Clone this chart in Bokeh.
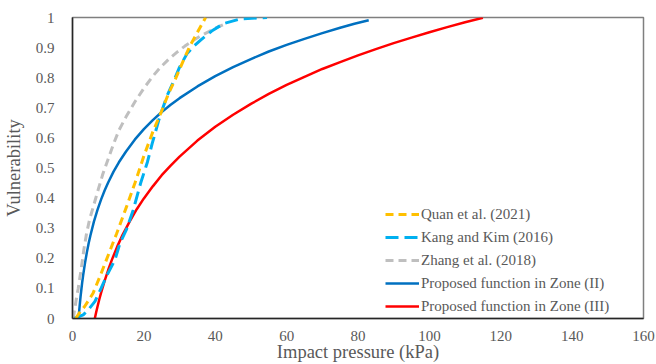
from bokeh.plotting import figure
from bokeh.models import Range1d, FixedTicker, Legend, LegendItem
from bokeh.embed import file_html
from bokeh.resources import INLINE

# ---- data ----
quan_x = [0.9, 2, 3.4, 4.6, 5.8, 7.7, 10, 12.3, 15.1, 17.5, 20, 22.5, 25, 27, 29, 31, 33.1, 35.2, 37.3]
quan_y = [0, 0.02, 0.04, 0.062, 0.085, 0.14, 0.21, 0.28, 0.37, 0.45, 0.54, 0.62, 0.69, 0.75, 0.80, 0.855, 0.91, 0.955, 1.0]

kang_x = [0.5, 3, 4.5, 6.3, 8, 9.5, 11.9, 13.3, 15.1, 17, 19.1, 21, 22.3, 24.2, 26.5, 28.4, 30, 32.1, 34, 35.9, 39, 42.4, 47, 54.5]
kang_y = [0, 0.012, 0.03, 0.057, 0.10, 0.14, 0.195, 0.25, 0.295, 0.36, 0.45, 0.52, 0.58, 0.66, 0.74, 0.79, 0.835, 0.88, 0.905, 0.925, 0.955, 0.98, 0.995, 1.0]

zhang_x = [0.2, 0.6, 1.0, 1.6, 2.5, 3.2, 3.9, 4.8, 5.8, 7, 8.5, 9.7, 11.5, 13, 15, 17.5, 20, 22.5, 24.7, 27, 29.3, 31.5, 34, 36, 38.2, 40.5, 43]
zhang_y = [0, 0.03, 0.06, 0.1, 0.17, 0.23, 0.28, 0.33, 0.37, 0.42, 0.48, 0.52, 0.58, 0.625, 0.67, 0.72, 0.765, 0.805, 0.835, 0.862, 0.885, 0.905, 0.925, 0.94, 0.953, 0.967, 0.98]

zone2_x = [1.7, 1.85, 2.0, 2.25, 2.5, 2.75, 3, 3.5, 4, 4.5, 5, 6, 7, 8, 9, 10, 11.5, 13, 15, 17.5, 20, 22.5, 25, 27.5, 30,
           35, 40, 45, 50, 55, 60, 65, 70, 75, 79, 83]
zone2_y = [0, 0.022, 0.041, 0.072, 0.098, 0.123, 0.145, 0.184, 0.218, 0.248, 0.275, 0.322, 0.361, 0.395, 0.425, 0.452,
           0.488, 0.519, 0.555, 0.595, 0.629, 0.659, 0.686, 0.710, 0.732, 0.771, 0.805, 0.835, 0.862, 0.887, 0.909,
           0.929, 0.948, 0.966, 0.979, 0.991]

zone3_x = [6.25, 6.6, 7, 7.5, 8, 9, 10, 11, 12.5, 14, 16, 18, 20, 22.5, 25, 27.5, 30, 35, 40, 45, 50, 55, 60, 65, 70,
           75, 80, 85, 90, 95, 100, 105, 110, 115]
zone3_y = [0, 0.019, 0.039, 0.063, 0.085, 0.125, 0.161, 0.194, 0.238, 0.277, 0.322, 0.363, 0.399, 0.439, 0.476, 0.508,
           0.538, 0.591, 0.637, 0.677, 0.713, 0.746, 0.776, 0.803, 0.829, 0.852, 0.874, 0.895, 0.915, 0.933, 0.951,
           0.968, 0.984, 0.999]

x_ticks = [0, 20, 40, 60, 80, 100, 120, 140, 160]
y_ticks = [0, 0.1, 0.2, 0.3, 0.4, 0.5, 0.6, 0.7, 0.8, 0.9, 1.0]
y_tick_labels = ["0", "0.1", "0.2", "0.3", "0.4", "0.5", "0.6", "0.7", "0.8", "0.9", "1"]

names = ["Quan et al. (2021)", "Kang and Kim (2016)", "Zhang et al. (2018)",
         "Proposed function in Zone (II)", "Proposed function in Zone (III)"]

FONT = "Liberation Serif"
GRAY_TXT = "#595959"

p = figure(width=656, height=364, output_backend="svg", toolbar_location=None,
           x_range=Range1d(0, 160), y_range=Range1d(0, 1),
           min_border_left=72, min_border_right=13, min_border_top=17, min_border_bottom=45)

p.xgrid.visible = False
p.ygrid.visible = False
p.outline_line_color = "#7f7f7f"
p.outline_line_width = 1.5
p.background_fill_color = "white"
p.border_fill_color = "white"

for ax in (p.xaxis[0], p.yaxis[0]):
    ax.axis_line_color = "#262626"
    ax.axis_line_width = 1.5
    ax.major_tick_line_color = None
    ax.minor_tick_line_color = None
    ax.major_label_text_font = FONT
    ax.major_label_text_font_size = "15px"
    ax.major_label_text_color = GRAY_TXT
    ax.axis_label_text_font = FONT
    ax.axis_label_text_font_size = "18.5px"
    ax.axis_label_text_font_style = "normal"
    ax.axis_label_text_color = GRAY_TXT

p.xaxis.ticker = FixedTicker(ticks=x_ticks)
p.yaxis.ticker = FixedTicker(ticks=y_ticks)
p.yaxis.major_label_overrides = {t: l for t, l in zip(y_ticks, y_tick_labels)}
p.xaxis.axis_label = "Impact pressure (kPa)"
p.yaxis.axis_label = "Vulnerability"
p.xaxis.major_label_standoff = 6
p.xaxis.axis_label_standoff = -2
p.yaxis.major_label_standoff = 12
p.yaxis.axis_label_standoff = 9

r_zone3 = p.line(zone3_x, zone3_y, line_color="#FF0000", line_width=2.5)
r_zone2 = p.line(zone2_x, zone2_y, line_color="#0070C0", line_width=2.5)
r_zhang = p.line(zhang_x, zhang_y, line_color="#BFBFBF", line_width=3, line_dash="8 5")
r_kang = p.line(kang_x, kang_y, line_color="#00B0F0", line_width=3, line_dash="13 6")
r_quan = p.line(quan_x, quan_y, line_color="#FFC000", line_width=3, line_dash="8 5")

legend = Legend(items=[
    LegendItem(label=names[0], renderers=[r_quan]),
    LegendItem(label=names[1], renderers=[r_kang]),
    LegendItem(label=names[2], renderers=[r_zhang]),
    LegendItem(label=names[3], renderers=[r_zone2]),
    LegendItem(label=names[4], renderers=[r_zone3]),
], location=(313, 2))
legend.label_text_font = FONT
legend.label_text_font_size = "15px"
legend.label_text_color = GRAY_TXT
legend.glyph_width = 34
legend.glyph_height = 20
legend.label_height = 20
legend.label_standoff = 2
legend.spacing = 3
legend.padding = 0
legend.margin = 0
legend.border_line_color = None
legend.background_fill_alpha = 0
p.add_layout(legend, "center")

open("out.html", "w").write(file_html(p, INLINE))
